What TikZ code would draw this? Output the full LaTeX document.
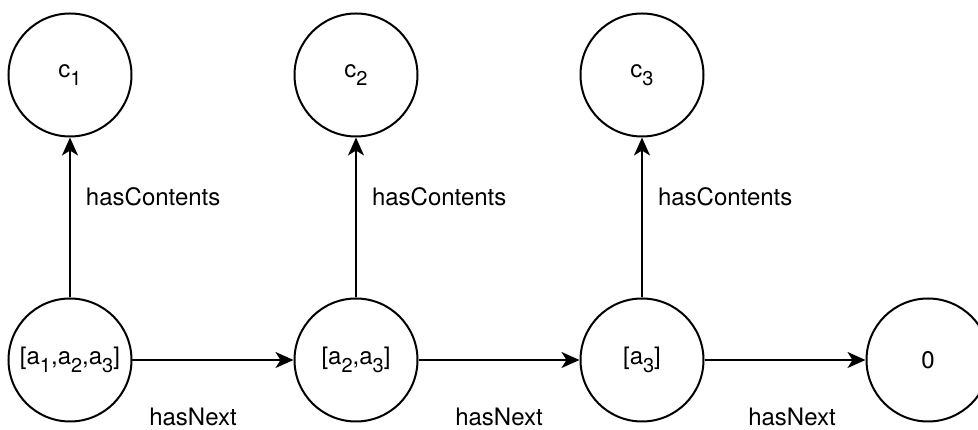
\documentclass[tikz,border=0pt]{standalone}
\usepackage{fontspec}
\setmainfont{TeX Gyre Heros}
\usetikzlibrary{arrows.meta,positioning}
\newcommand\lowsub[1]{\raisebox{-8pt}{\fontsize{20}{24}\selectfont #1}}

\begin{document}
\begin{tikzpicture}[x=1pt, y=1pt, line width=2pt, node distance = {285pt and 286pt},
  cell/.style = {draw, circle, on grid, minimum size=123pt, inner sep=0pt, font=\fontsize{24}{28}\selectfont},
  rel/.style = {inner sep=0pt, font=\fontsize{24}{28}\selectfont},
  >={Stealth[length=18pt, width=16pt, inset=5pt]}]
    \useasboundingbox (-70,-70) rectangle (908,360);

    \node[cell](l1) {[a\lowsub{1},a\lowsub{2},a\lowsub{3}]};
    \node[cell, above=of l1](c1) {c\lowsub{1}};

    \node[cell, right=of l1](l2) {[a\lowsub{2},a\lowsub{3}]};
    \node[cell, above=of l2](c2) {c\lowsub{2}};

    \node[cell, right=of l2](l3) {[a\lowsub{3}]};
    \node[cell, above=of l3](c3) {c\lowsub{3}};

    \node[cell, right=of l3](nil) {0};

    \draw [->] (l1) -- (c1) node[rel, pos=0.63, anchor=west, xshift=15pt] {hasContents};
    \draw [->] (l2) -- (c2) node[rel, pos=0.63, anchor=west, xshift=15pt] {hasContents};
    \draw [->] (l3) -- (c3) node[rel, pos=0.63, anchor=west, xshift=15pt] {hasContents};

    \draw [->] (l1) -- (l2) node[rel, midway, anchor=north, yshift=-47pt, xshift=-20pt] {hasNext};
    \draw [->] (l2) -- (l3) node[rel, midway, anchor=north, yshift=-47pt] {hasNext};
    \draw [->] (l3) -- (nil) node[rel, midway, anchor=north, yshift=-47pt, xshift=7pt] {hasNext};

\end{tikzpicture}
\end{document}
